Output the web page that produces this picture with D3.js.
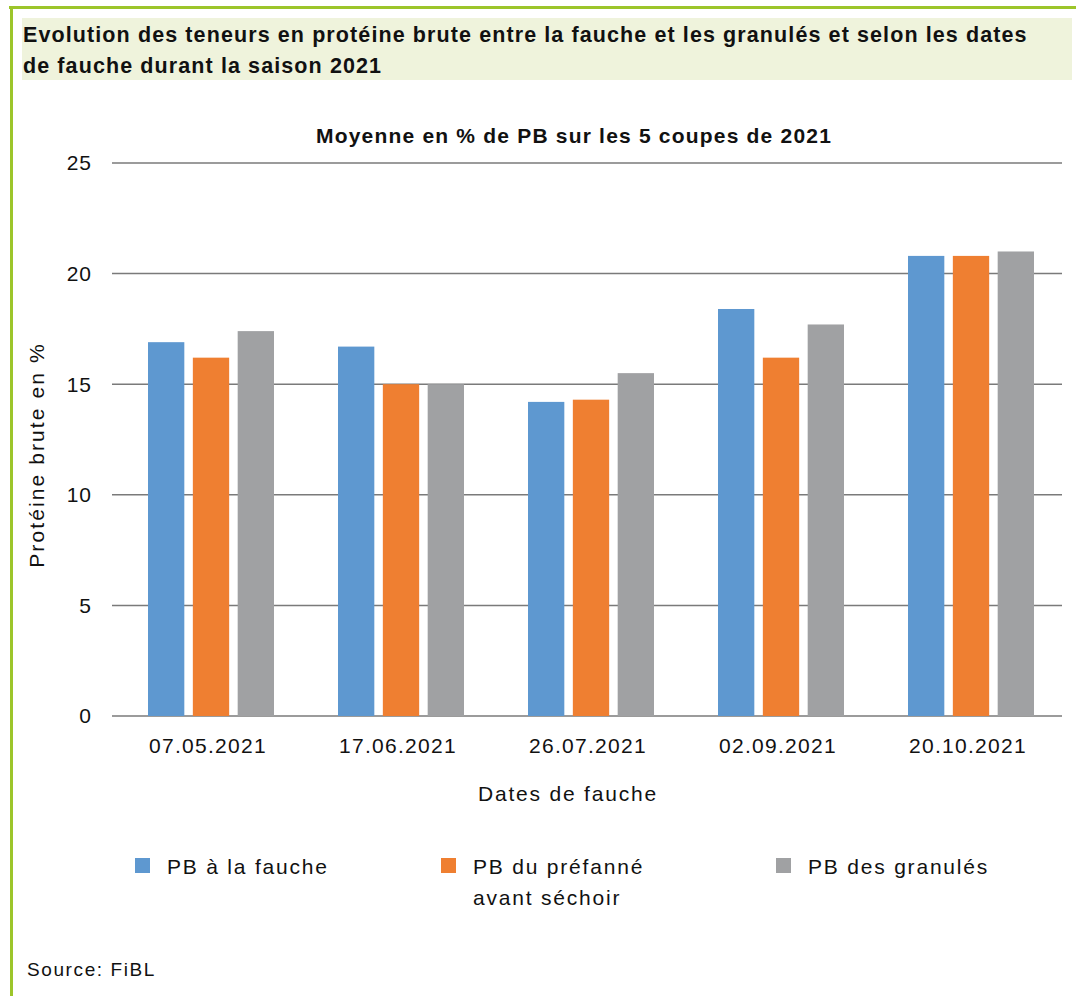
<!DOCTYPE html>
<html>
<head>
<meta charset="utf-8">
<script src="https://cdn.jsdelivr.net/npm/d3@7"></script>
<style>
  body { margin: 0; background: #fff; }
  svg { display: block; font-family: "Liberation Sans", Arial, sans-serif; }
</style>
</head>
<body>
<svg id="chart" width="1076" height="996"></svg>
<script>
// data
const dates = ["07.05.2021", "17.06.2021", "26.07.2021", "02.09.2021", "20.10.2021"];
const seriesNames = ["PB à la fauche", "PB du préfanné avant séchoir", "PB des granulés"];
const pbFauche = [16.9, 16.7, 14.2, 18.4, 20.8];
const pbPrefanne = [16.2, 15.0, 14.3, 16.2, 20.8];
const pbGranules = [17.4, 15.0, 15.5, 17.7, 21.0];
const yTicks = [0, 5, 10, 15, 20, 25];

const colors = ["#5e98d0", "#ef7f31", "#a0a1a3"];
const allSeries = [pbFauche, pbPrefanne, pbGranules];

const svg = d3.select("#chart");

// frame
svg.append("rect").attr("x", 0).attr("y", 0).attr("width", 1076).attr("height", 996).attr("fill", "#fff");
svg.append("line").attr("x1", 9).attr("x2", 1076).attr("y1", 7.5).attr("y2", 7.5)
    .attr("stroke", "#9cc52a").attr("stroke-width", 3);
svg.append("line").attr("x1", 11.5).attr("x2", 11.5).attr("y1", 6).attr("y2", 996)
    .attr("stroke", "#9cc52a").attr("stroke-width", 3);

svg.append("rect").attr("x", 22).attr("y", 18).attr("width", 1050).attr("height", 62).attr("fill", "#eff3dc");

svg.append("text")
    .attr("x", 23).attr("font-size", "21.5px").attr("font-weight", "bold").attr("fill", "#111")
    .attr("letter-spacing", "1.1px")
    .selectAll("tspan")
    .data(["Evolution des teneurs en protéine brute entre la fauche et les granulés et selon les dates",
           "de fauche durant la saison 2021"])
    .join("tspan")
    .attr("x", 23)
    .attr("y", (d, i) => 42 + i * 31)
    .text(d => d);

const margin = {left: 112, right: 1062, top: 163, bottom: 716};

const x0 = d3.scaleBand().domain(dates).range([margin.left, margin.right]);
const x1 = d3.scaleBand().domain(d3.range(3)).range([0, 126]).paddingInner(0.19).paddingOuter(0);
const y = d3.scaleLinear().domain([0, 25]).range([margin.bottom, margin.top]);

// grid
svg.append("g")
    .selectAll("line")
    .data(yTicks)
    .join("line")
    .attr("x1", margin.left).attr("x2", margin.right)
    .attr("y1", d => y(d)).attr("y2", d => y(d))
    .attr("stroke", "#7a7a7a").attr("stroke-width", 1.5);

svg.append("g")
    .selectAll("text")
    .data(yTicks)
    .join("text")
    .attr("x", 92).attr("y", d => y(d)).attr("dy", "0.35em")
    .attr("text-anchor", "end").attr("font-size", "21px").attr("fill", "#111")
    .attr("letter-spacing", "1px")
    .text(d => d);

// bars
const groups = svg.append("g")
    .selectAll("g")
    .data(dates)
    .join("g")
    .attr("transform", d => `translate(${x0(d) + (x0.bandwidth() - 126) / 2 + 4},0)`);

groups.selectAll("rect")
    .data((d, i) => allSeries.map((s, k) => ({k: k, v: s[i]})))
    .join("rect")
    .attr("x", d => x1(d.k))
    .attr("width", x1.bandwidth())
    .attr("y", d => y(d.v))
    .attr("height", d => y(0) - y(d.v))
    .attr("fill", d => colors[d.k]);

// x labels
svg.append("g")
    .selectAll("text")
    .data(dates)
    .join("text")
    .attr("x", d => x0(d) + x0.bandwidth() / 2 + 1)
    .attr("y", 753)
    .attr("text-anchor", "middle").attr("font-size", "21px").attr("fill", "#111")
    .attr("letter-spacing", "1.3px")
    .text(d => d);

svg.append("text")
    .attr("x", 574).attr("y", 143)
    .attr("text-anchor", "middle").attr("font-size", "21px").attr("font-weight", "bold").attr("fill", "#111")
    .attr("letter-spacing", "1.2px")
    .text("Moyenne en % de PB sur les 5 coupes de 2021");

svg.append("text")
    .attr("transform", "translate(44,455) rotate(-90)")
    .attr("text-anchor", "middle").attr("font-size", "21px").attr("fill", "#111")
    .attr("letter-spacing", "2.1px")
    .text("Protéine brute en %");

svg.append("text")
    .attr("x", 568).attr("y", 801)
    .attr("text-anchor", "middle").attr("font-size", "21px").attr("fill", "#111")
    .attr("letter-spacing", "1.8px")
    .text("Dates de fauche");

// legend
const legendX = [135, 441, 776];
const legendLines = [["PB à la fauche"], ["PB du préfanné", "avant séchoir"], ["PB des granulés"]];
const legend = svg.append("g")
    .selectAll("g")
    .data(seriesNames)
    .join("g")
    .attr("transform", (d, i) => `translate(${legendX[i]},0)`);

legend.append("rect")
    .attr("x", 0).attr("y", 858).attr("width", 15).attr("height", 15)
    .attr("fill", (d, i) => colors[i]);

legend.append("text")
    .attr("font-size", "21px").attr("fill", "#111")
    .attr("letter-spacing", "1.8px")
    .selectAll("tspan")
    .data((d, i) => legendLines[i])
    .join("tspan")
    .attr("x", 32)
    .attr("y", (d, j) => 874 + j * 31)
    .text(d => d);

svg.append("text")
    .attr("x", 27).attr("y", 976)
    .attr("font-size", "19px").attr("fill", "#111")
    .attr("letter-spacing", "1.6px")
    .text("Source: FiBL");
</script>
</body>
</html>
